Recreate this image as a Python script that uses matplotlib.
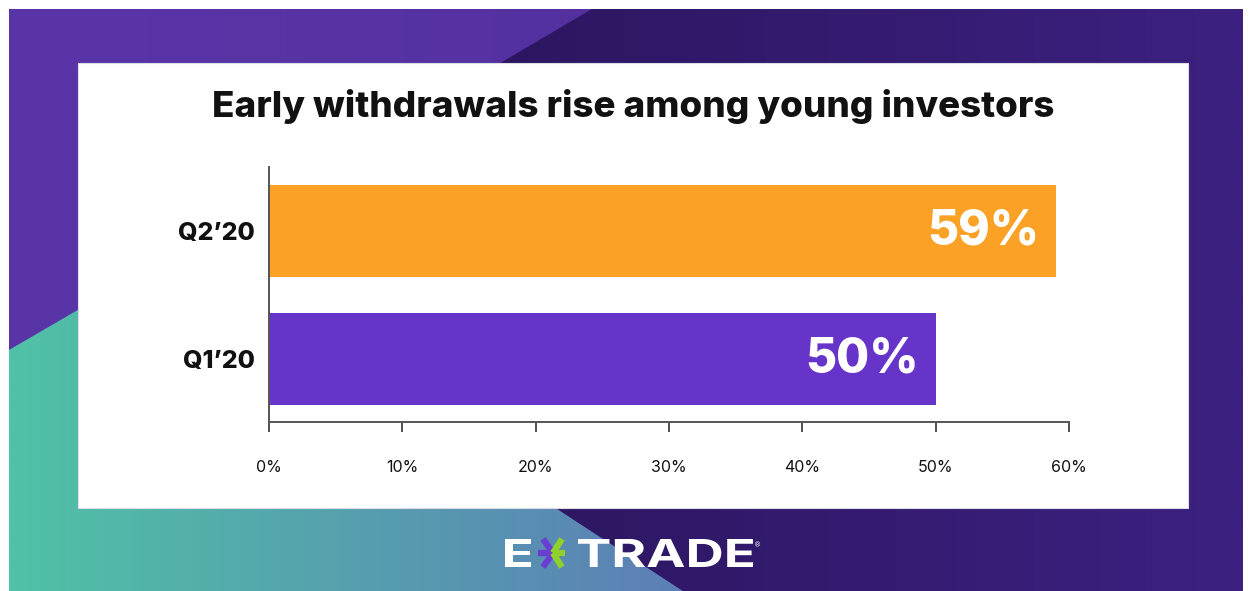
import numpy as np
import matplotlib.pyplot as plt
import matplotlib.colors as mcolors
from matplotlib.patches import Polygon, Rectangle, PathPatch
from matplotlib.textpath import TextPath
from matplotlib.font_manager import FontProperties
from matplotlib.transforms import Affine2D

# chart data
quarters = ["Q1’20", "Q2’20"]
shares = [50, 59]
bar_colors = ["#6634c9", "#fba126"]
tick_vals = [0, 10, 20, 30, 40, 50, 60]
title = "Early withdrawals rise among young investors"

W, H = 1252, 591
fig = plt.figure(figsize=(W / 100, H / 100), dpi=100)
fig.patch.set_facecolor("white")

# background layer in pixel coords (y down)
bg = fig.add_axes([0, 0, 1, 1])
bg.axis("off")


def gradient_fill(ax, pts, c0, c1, x0, x1):
    poly = Polygon(pts, closed=True, facecolor="none", edgecolor="none")
    ax.add_patch(poly)
    a = np.array(mcolors.to_rgb(c0))
    b = np.array(mcolors.to_rgb(c1))
    t = np.linspace(0, 1, 256)[:, None]
    img = (a * (1 - t) + b * t)[None, :, :]
    im = ax.imshow(img, extent=(x0, x1, H, 0), aspect="auto",
                   interpolation="bilinear", zorder=0)
    im.set_clip_path(poly)


L, T, R, B = 9, 9, 1243, 591
gradient_fill(bg, [(L, T), (R, T), (R, B), (L, B)], "#5a35a8", "#53309e", L, 700)
gradient_fill(bg, [(L, 350), (100, 297), (545, 501), (683, B), (L, B)],
              "#50c2a6", "#5c7fb6", L, 683)
gradient_fill(bg, [(592, T), (R, T), (R, B), (683, B), (545, 501), (480, 75)],
              "#2c1660", "#3c2180", 480, R)

# white panel
bg.add_patch(Rectangle((78, 63), 1110, 445, facecolor="white",
                       edgecolor="#dcdce6", lw=0.8, zorder=2))

FAM = ["Inter", "DejaVu Sans"]
bg.text(633, 107, title, ha="center", va="center", fontsize=26.5,
        family=FAM, fontweight="heavy", color="#111111", zorder=3)

# logo
fp = FontProperties(family=FAM, weight="bold")


def stretched_text(s, x0, y0, x1, y1, color="white"):
    tp = TextPath((0, 0), s, size=40, prop=fp)
    ext = tp.get_extents()
    sx = (x1 - x0) / ext.width
    sy = (y1 - y0) / ext.height
    tr = (Affine2D().translate(-ext.x0, -ext.y0).scale(sx, -sy)
          .translate(x0, y1) + bg.transData)
    bg.add_patch(PathPatch(tp, facecolor=color, edgecolor="none",
                           transform=tr, zorder=3))


stretched_text("E", 505, 539, 531, 567)
stretched_text("TRADE", 578, 539, 753, 567)
bg.text(758, 545, "®", fontsize=5, color="white", ha="center", va="center",
        zorder=3)
cx, cy = 553, 553
for dx, dy in [(-10, -14), (-15, 0), (-10, 14)]:
    bg.plot([cx, cx + dx], [cy, cy + dy], color="#6a3ed2", lw=4.5,
            solid_capstyle="butt", zorder=3)
for dx, dy in [(9, -14), (12, 0), (9, 14)]:
    bg.plot([cx, cx + dx], [cy, cy + dy], color="#8fd12a", lw=4.5,
            solid_capstyle="butt", zorder=3)

bg.set_xlim(0, W)
bg.set_ylim(H, 0)

# bar chart
x0p, x1p, ytop, ybot = 269, 1069, 167, 422
ax = fig.add_axes([x0p / W, 1 - ybot / H, (x1p - x0p) / W, (ybot - ytop) / H])
ax.patch.set_alpha(0)
ypos = np.arange(len(quarters))
bars = ax.barh(ypos, shares, height=0.72, color=bar_colors)
ax.set_xlim(0, 60)
ax.set_ylim(-0.49, 1.5)

for sp in ["top", "right"]:
    ax.spines[sp].set_visible(False)
for sp in ["left", "bottom"]:
    ax.spines[sp].set_color("#555555")
    ax.spines[sp].set_linewidth(1.4)

ax.set_xticks(tick_vals)
ax.set_xticklabels([f"{v}%" for v in tick_vals], family=FAM,
                   fontsize=11.5, color="#111111")
ax.tick_params(axis="x", length=7.5, width=1.2, color="#333333", pad=20)
ax.set_yticks(ypos)
ax.set_yticklabels(quarters, family=FAM, fontsize=18,
                   fontweight="heavy", color="#111111")
ax.tick_params(axis="y", length=0, pad=10)

for yp, v in zip(ypos, shares):
    ax.annotate(f"{v}%", (v, yp), xytext=(-12, 0), textcoords="offset points",
                ha="right", va="center", fontsize=34.5, fontweight="heavy",
                family=FAM, color="white")

fig.savefig("out.png", dpi=100)
